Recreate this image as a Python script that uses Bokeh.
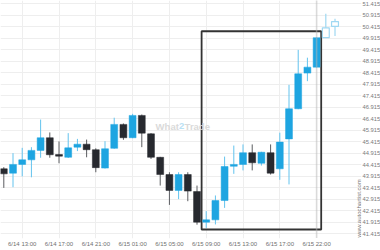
import math
from bokeh.plotting import figure
from bokeh.models import ColumnDataSource, FixedTicker, Span, Label, Range1d, LinearAxis
from bokeh.embed import file_html
from bokeh.resources import INLINE

# ---- data (hourly candles, index based x axis) ----
opens  = [44.25, 44.06, 44.44, 44.64, 45.05, 45.60, 44.87, 44.75, 45.19, 45.32,
          45.08, 44.28, 45.14, 46.18, 45.60, 46.57, 45.77, 44.75, 44.00, 43.31,
          44.00, 43.26, 41.93, 42.03, 42.87, 44.36, 44.44, 44.95, 44.49, 44.95,
          44.25, 45.55, 46.86, 48.41, 48.67]
highs  = [44.32, 44.93, 45.16, 45.19, 46.39, 45.83, 45.44, 45.80, 45.55, 45.52,
          45.14, 45.45, 46.47, 46.22, 46.64, 46.61, 45.80, 44.77, 44.10, 44.10,
          44.10, 43.52, 42.41, 43.09, 44.78, 45.26, 45.31, 45.31, 44.99, 45.31,
          45.82, 47.90, 49.42, 49.08, 49.97]
lows   = [43.42, 43.45, 43.92, 43.88, 44.73, 44.73, 44.49, 44.72, 45.02, 44.75,
          44.10, 44.26, 45.12, 45.51, 45.58, 45.19, 44.68, 43.52, 42.68, 42.93,
          42.84, 41.82, 41.68, 41.83, 42.55, 44.03, 44.18, 44.18, 44.39, 44.00,
          43.77, 43.57, 46.84, 48.06, 48.65]
closes = [44.03, 44.44, 44.64, 45.05, 45.60, 44.86, 44.80, 45.16, 45.32, 45.08,
          44.30, 45.12, 46.18, 45.60, 46.57, 45.80, 44.75, 44.00, 43.31, 44.00,
          43.28, 41.93, 42.03, 42.87, 44.35, 44.44, 44.95, 44.51, 44.97, 44.06,
          45.41, 46.86, 48.38, 48.67, 49.95]

# projected (hollow) candles after the last bar
proj_opens  = [49.95, 50.44]
proj_highs  = [50.99, 50.77]
proj_lows   = [49.95, 50.02]
proj_closes = [50.38, 50.65]

tick_idx    = [2, 6, 10, 14, 18, 22, 26, 30, 34]
tick_labels = ["6/14 13:00", "6/14 17:00", "6/14 21:00", "6/15 01:00", "6/15 05:00",
               "6/15 09:00", "6/15 13:00", "6/15 17:00", "6/15 22:00"]
y_ticks = [41.415 + 0.5 * k for k in range(21)]

# pattern box (start/end index, low/high price)
box_start, box_end = 21.5, 34.5
box_low, box_high = 41.61, 50.23
last_idx = 34

BLUE = "#1ea5e1"
BLUE_WICK = "#62c3ee"
DARK = "#27292f"
DARK_WICK = "#5a5c60"
HOLLOW = "#9fd8f2"
FONT = "Liberation Sans"

n = len(opens)
xs = list(range(n))
src = ColumnDataSource(dict(
    x=xs,
    top=[max(o, c) for o, c in zip(opens, closes)],
    bottom=[min(o, c) for o, c in zip(opens, closes)],
    high=highs, low=lows,
    color=[BLUE if c >= o else DARK for o, c in zip(opens, closes)],
    wick=[BLUE_WICK if c >= o else DARK_WICK for o, c in zip(opens, closes)],
))
px = [n + i for i in range(len(proj_opens))]
psrc = ColumnDataSource(dict(
    x=px,
    top=[max(o, c) for o, c in zip(proj_opens, proj_closes)],
    bottom=[min(o, c) for o, c in zip(proj_opens, proj_closes)],
    high=proj_highs, low=proj_lows,
))

X_END = 38.88
Y_LO, Y_HI = 41.219, 51.567
p = figure(frame_width=361, frame_height=238, output_backend="svg",
           toolbar_location=None, y_axis_location=None,
           x_range=Range1d(-0.36, X_END), y_range=Range1d(Y_LO, Y_HI),
           min_border_left=0, min_border_top=0, min_border_right=0, min_border_bottom=0)
p.outline_line_color = None
p.background_fill_color = "white"

# price axis on the right
ya = LinearAxis(ticker=FixedTicker(ticks=y_ticks))
ya.major_label_overrides = {t: "%.3f" % t for t in y_ticks}
ya.axis_line_color = None
ya.major_tick_line_color = None
ya.minor_tick_line_color = None
ya.major_tick_out = 0
ya.major_tick_in = 0
ya.major_label_standoff = 1
ya.major_label_text_font = FONT
ya.major_label_text_font_size = "5.8px"
ya.major_label_text_color = "#7a7a7a"
p.add_layout(ya, "right")

# grid
p.xgrid.ticker = FixedTicker(ticks=tick_idx[:-1])
p.ygrid.ticker = FixedTicker(ticks=y_ticks)
p.xgrid.grid_line_color = "#eeeeee"
p.ygrid.grid_line_color = "#eeeeee"

# time axis
xa = p.xaxis[0]
xa.ticker = FixedTicker(ticks=tick_idx)
xa.major_label_overrides = dict(zip(tick_idx, tick_labels))
xa.axis_line_color = None
xa.major_tick_line_color = None
xa.minor_tick_line_color = None
xa.major_tick_out = 0
xa.major_tick_in = 0
xa.major_label_standoff = 2
xa.major_label_text_font = FONT
xa.major_label_text_font_size = "6px"
xa.major_label_text_color = "#6f6f6f"

# watermark "What2Trade" (grey / light blue / grey)
WM_X, WM_Y = 16.5, 46.09
for txt, off, col in [("What", 0, "#dadada"), ("2", 23.5, "#b9e1f4"), ("Trade", 29, "#dadada")]:
    p.add_layout(Label(x=WM_X, y=WM_Y, x_offset=off, text=txt, text_font=FONT,
                       text_font_size="9.5px", text_font_style="bold", text_color=col,
                       text_align="left", text_baseline="middle"))

# vertical site credit at the right edge of the frame
p.add_layout(Label(x=X_END, y=Y_LO, x_offset=-3, y_offset=1, text="www.autochartist.com",
                   angle=math.pi / 2, text_font=FONT, text_font_size="6px",
                   text_color="#777777", text_align="left", text_baseline="middle"))

# dotted "now" line
p.add_layout(Span(location=last_idx, dimension="height", line_color="#b5b5b5",
                  line_dash="1 1", line_width=1.6))

# pattern box
p.quad(left=[box_start], right=[box_end], top=[box_high], bottom=[box_low],
       fill_alpha=0, line_color="#333333", line_width=1.8)

# candles
p.segment(x0="x", y0="high", x1="x", y1="low", color="wick", line_width=1, source=src)
p.vbar(x="x", width=0.75, top="top", bottom="bottom", fill_color="color",
       line_color="color", line_width=0.5, source=src)
p.segment(x0="x", y0="high", x1="x", y1="low", color=HOLLOW, line_width=1.2, source=psrc)
p.vbar(x="x", width=0.75, top="top", bottom="bottom", fill_color="white",
       line_color=HOLLOW, line_width=1.2, source=psrc)

open("out.html", "w").write(file_html(p, INLINE))
